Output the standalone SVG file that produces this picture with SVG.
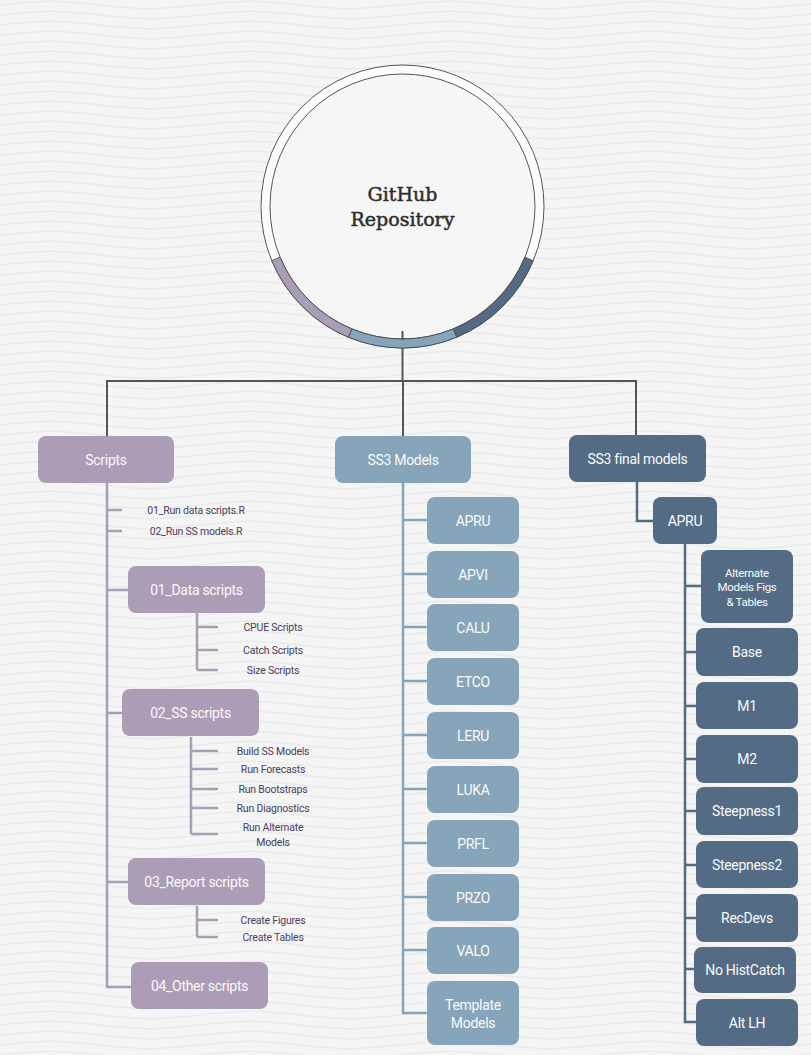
<svg xmlns="http://www.w3.org/2000/svg" width="811" height="1055" viewBox="0 0 811 1055">
<defs>
<pattern id="waves" x="0" y="0" width="200" height="10" patternUnits="userSpaceOnUse">
<path d="M0 5 C50 0 50 0 100 5 S150 10 200 5" fill="none" stroke="#eaeaea" stroke-width="1.6"/>
<path d="M0 5 C50 0 50 0 100 5 S150 10 200 5" fill="none" stroke="#eaeaea" stroke-width="1.6" transform="translate(0,-10)"/>
<path d="M0 5 C50 0 50 0 100 5 S150 10 200 5" fill="none" stroke="#eaeaea" stroke-width="1.6" transform="translate(0,10)"/>
</pattern>
<style>
.lbl{font-family:"Liberation Sans Narrow","Roboto","Liberation Sans",sans-serif;fill:#fafafa;text-anchor:middle;letter-spacing:-0.3px}
.big{font-size:14px}
.mid{font-size:11.5px}
.sm{font-family:"Liberation Sans Narrow","Roboto","Liberation Sans",sans-serif;font-size:10.5px;fill:#4a405c;text-anchor:middle;letter-spacing:-0.2px}
.pur{fill:#ab9db5}
.lb{fill:#86a5bb}
.db{fill:#536b84}
.cp{stroke:#ab9db5;stroke-width:2.5;fill:none}
.cl{stroke:#86a5bb;stroke-width:2.5;fill:none}
.cd{stroke:#536b84;stroke-width:2.5;fill:none}
.cg{stroke:#555;stroke-width:2;fill:none}
.ttl{font-family:"DejaVu Serif","Liberation Serif",serif;font-size:19px;fill:#2e2e2e;stroke:#2e2e2e;stroke-width:0.5;text-anchor:middle}
</style>
</defs>
<rect width="811" height="1055" fill="#f5f5f5"/>
<rect width="811" height="1055" fill="url(#waves)"/>

<g id="connectors">
<path class="cg" d="M402.5 74V65M402.5 331V381M107 381H637M107 380V436M403 380V436M636 380V435"/>
<path class="cp" d="M107 483V987H131M107 510H122M107 531H122M107 590H128M107 713H122M107 882H128"/>
<path class="cp" d="M197 613V670M197 627H218M197 650H218M197 670H218"/>
<path class="cp" d="M191 737V834M191 751H218M191 769H218M191 789H218M191 808H218M191 834H218"/>
<path class="cp" d="M197 906V937M197 920H218M197 937H218"/>
<path class="cl" d="M403 483V1013H427M403 520H427M403 574H427M403 627H427M403 681H427M403 735H427M403 789H427M403 843H427M403 897H427M403 950H427"/>
<path class="cd" d="M637 482V521H653"/>
<path class="cd" d="M685 544V1022H696M685 586H701M685 652H696M685 706H696M685 759H696M685 811H696M685 865H696M685 918H696M685 969H694"/>
</g>

<g id="github">
<circle cx="402.5" cy="206.5" r="141.5" fill="#fcfcfc" stroke="#555" stroke-width="1"/>
<circle cx="402.5" cy="206.5" r="132.5" fill="#f6f6f6" stroke="#555" stroke-width="1"/>
<path d="M533.23 260.65A141.5 141.5 0 0 1 456.65 337.23L453.2 328.91A132.5 132.5 0 0 0 524.91 257.2Z" fill="#536b84" stroke="#444" stroke-width="0.8"/>
<path d="M456.65 337.23A141.5 141.5 0 0 1 348.35 337.23L351.8 328.91A132.5 132.5 0 0 0 453.2 328.91Z" fill="#86a5bb" stroke="#444" stroke-width="0.8"/>
<path d="M348.35 337.23A141.5 141.5 0 0 1 271.77 260.65L280.09 257.2A132.5 132.5 0 0 0 351.8 328.91Z" fill="#ab9db5" stroke="#444" stroke-width="0.8"/>
<line x1="402.5" y1="331" x2="402.5" y2="340" stroke="#555" stroke-width="2"/>
<text class="ttl" x="402.5" y="201">GitHub</text>
<text class="ttl" x="402.5" y="226">Repository</text>
</g>

<g id="scripts"><rect class="pur" x="38" y="436" width="136" height="47" rx="8"/><text class="lbl big" x="106" y="465">Scripts</text></g>
<g id="run-data"><text class="sm" x="196" y="514">01_Run data scripts.R</text></g>
<g id="run-ss"><text class="sm" x="196" y="535">02_Run SS models.R</text></g>
<g id="data-scripts"><rect class="pur" x="128" y="566" width="137" height="47" rx="8"/><text class="lbl big" x="196.5" y="595">01_Data scripts</text></g>
<g id="cpue"><text class="sm" x="273" y="631">CPUE Scripts</text></g>
<g id="catch"><text class="sm" x="273" y="654">Catch Scripts</text></g>
<g id="size"><text class="sm" x="273" y="674">Size Scripts</text></g>
<g id="ss-scripts"><rect class="pur" x="122" y="689" width="137" height="47" rx="8"/><text class="lbl big" x="190.5" y="718">02_SS scripts</text></g>
<g id="build"><text class="sm" x="273" y="755">Build SS Models</text></g>
<g id="forecasts"><text class="sm" x="273" y="773">Run Forecasts</text></g>
<g id="bootstraps"><text class="sm" x="273" y="793">Run Bootstraps</text></g>
<g id="diagnostics"><text class="sm" x="273" y="812">Run Diagnostics</text></g>
<g id="alternate"><text class="sm" x="273" y="831">Run Alternate</text><text class="sm" x="273" y="846">Models</text></g>
<g id="report-scripts"><rect class="pur" x="128" y="858" width="137" height="47" rx="8"/><text class="lbl big" x="196.5" y="887">03_Report scripts</text></g>
<g id="figures"><text class="sm" x="273" y="924">Create Figures</text></g>
<g id="tables"><text class="sm" x="273" y="941">Create Tables</text></g>
<g id="other-scripts"><rect class="pur" x="131" y="962" width="137" height="47" rx="8"/><text class="lbl big" x="199.5" y="991">04_Other scripts</text></g>

<g id="ss3-models"><rect class="lb" x="335" y="436" width="136" height="47" rx="8"/><text class="lbl big" x="403" y="465">SS3 Models</text></g>
<g id="m-apru"><rect class="lb" x="427" y="497" width="92" height="47" rx="8"/><text class="lbl big" x="473" y="526">APRU</text></g>
<g id="m-apvi"><rect class="lb" x="427" y="551" width="92" height="47" rx="8"/><text class="lbl big" x="473" y="580">APVI</text></g>
<g id="m-calu"><rect class="lb" x="427" y="604" width="92" height="47" rx="8"/><text class="lbl big" x="473" y="633">CALU</text></g>
<g id="m-etco"><rect class="lb" x="427" y="658" width="92" height="47" rx="8"/><text class="lbl big" x="473" y="687">ETCO</text></g>
<g id="m-leru"><rect class="lb" x="427" y="712" width="92" height="47" rx="8"/><text class="lbl big" x="473" y="741">LERU</text></g>
<g id="m-luka"><rect class="lb" x="427" y="766" width="92" height="47" rx="8"/><text class="lbl big" x="473" y="795">LUKA</text></g>
<g id="m-prfl"><rect class="lb" x="427" y="820" width="92" height="47" rx="8"/><text class="lbl big" x="473" y="849">PRFL</text></g>
<g id="m-przo"><rect class="lb" x="427" y="874" width="92" height="47" rx="8"/><text class="lbl big" x="473" y="903">PRZO</text></g>
<g id="m-valo"><rect class="lb" x="427" y="927" width="92" height="47" rx="8"/><text class="lbl big" x="473" y="956">VALO</text></g>
<g id="m-template"><rect class="lb" x="427" y="981" width="92" height="64" rx="8"/><text class="lbl big" x="473" y="1010">Template</text><text class="lbl big" x="473" y="1028">Models</text></g>

<g id="ss3-final"><rect class="db" x="569" y="435" width="137" height="47" rx="8"/><text class="lbl big" x="637.5" y="464">SS3 final models</text></g>
<g id="f-apru"><rect class="db" x="653" y="497" width="64" height="47" rx="8"/><text class="lbl big" x="685" y="526">APRU</text></g>
<g id="f-alt"><rect class="db" x="701" y="550" width="92" height="73" rx="8"/><text class="lbl mid" x="747" y="577">Alternate</text><text class="lbl mid" x="747" y="591">Models Figs</text><text class="lbl mid" x="747" y="606">&amp; Tables</text></g>
<g id="f-base"><rect class="db" x="696" y="628" width="102" height="48" rx="8"/><text class="lbl big" x="747" y="657">Base</text></g>
<g id="f-m1"><rect class="db" x="696" y="682" width="102" height="47" rx="8"/><text class="lbl big" x="747" y="711">M1</text></g>
<g id="f-m2"><rect class="db" x="696" y="735" width="102" height="48" rx="8"/><text class="lbl big" x="747" y="764">M2</text></g>
<g id="f-steep1"><rect class="db" x="696" y="787" width="102" height="48" rx="8"/><text class="lbl big" x="747" y="816">Steepness1</text></g>
<g id="f-steep2"><rect class="db" x="696" y="841" width="102" height="47" rx="8"/><text class="lbl big" x="747" y="870">Steepness2</text></g>
<g id="f-recdevs"><rect class="db" x="696" y="894" width="102" height="48" rx="8"/><text class="lbl big" x="747" y="923">RecDevs</text></g>
<g id="f-nohist"><rect class="db" x="694" y="947" width="102" height="46" rx="8"/><text class="lbl big" x="745" y="975">No HistCatch</text></g>
<g id="f-altlh"><rect class="db" x="696" y="999" width="102" height="47" rx="8"/><text class="lbl big" x="747" y="1028">Alt LH</text></g>
</svg>
